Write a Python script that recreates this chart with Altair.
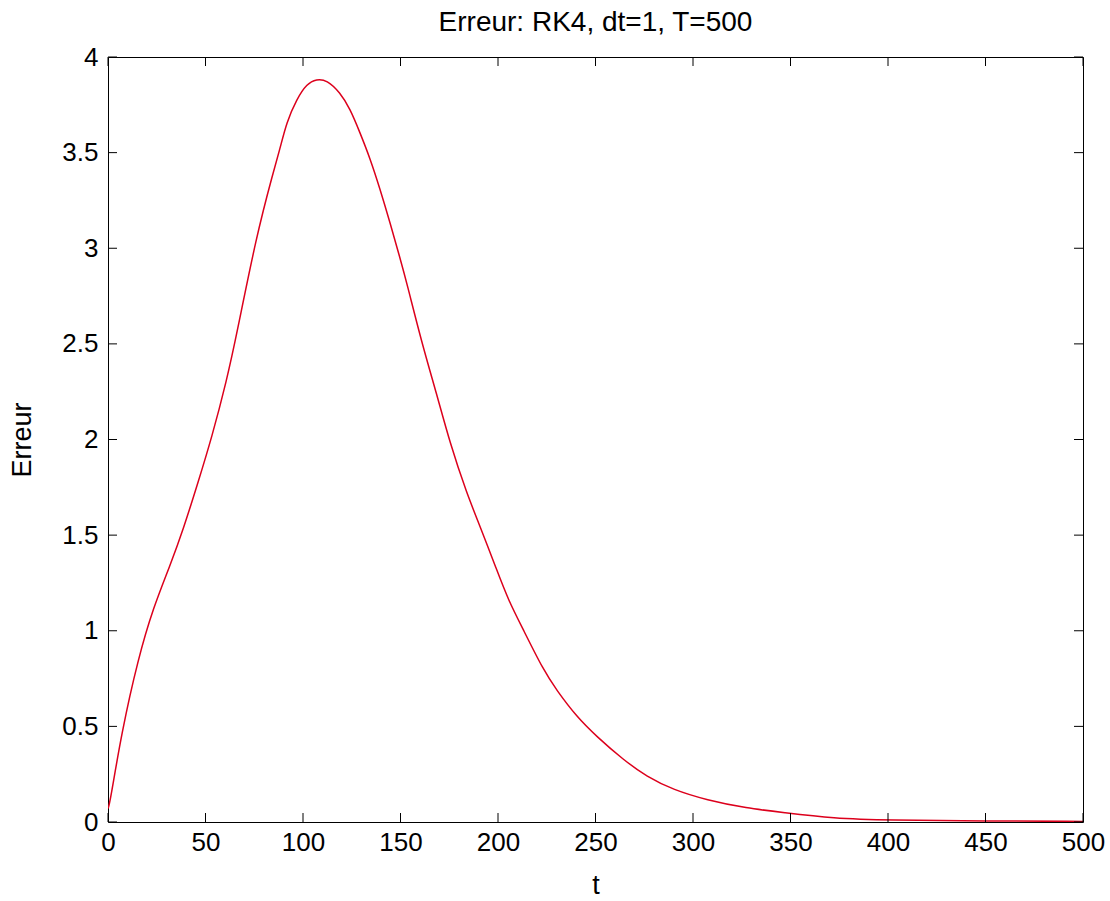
import altair as alt
import pandas as pd

# curve values
t_vals = [0, 1, 7, 15.6, 23.2, 31.8, 38.6, 46.3, 53.2, 60.9, 66, 76, 84.8, 88.2,
          91.6, 96.8, 101.9, 107, 112.2, 119, 124.1, 129.2, 134.4, 139.5, 144.6, 149.7,
          153.2, 160.8, 168.5, 175.4, 183.9, 190.8, 199.3, 205.3, 213, 223.2, 230, 240.3,
          250.6, 264.3, 276.3, 290, 307, 327.5, 346, 372, 400, 450, 500]
err_vals = [0.07, 0.1, 0.47, 0.86, 1.12, 1.34, 1.53, 1.78, 2.01, 2.31, 2.55, 3.06,
            3.4, 3.52, 3.66, 3.78, 3.86, 3.885, 3.88, 3.815, 3.73, 3.605, 3.47, 3.31,
            3.135, 2.95, 2.82, 2.51, 2.24, 1.98, 1.72, 1.546, 1.32, 1.16, 1.005, 0.796,
            0.69, 0.551, 0.447, 0.325, 0.237, 0.168, 0.115, 0.072, 0.05, 0.019, 0.01,
            0.005, 0.003]

x_ticks = [0, 50, 100, 150, 200, 250, 300, 350, 400, 450, 500]
y_ticks = [0, 0.5, 1, 1.5, 2, 2.5, 3, 3.5, 4]

W, H = 975, 765
TL = 9
FONT = "Liberation Sans"
LBL = 26
TTL = 27

df = pd.DataFrame({"t": t_vals, "err": err_vals})
xt = pd.DataFrame({"t": x_ticks})
yt = pd.DataFrame({"e": y_ticks})

xscale = alt.Scale(domain=[0, 500], nice=False, zero=False)
yscale = alt.Scale(domain=[0, 4], nice=False, zero=False)

line = alt.Chart(df).mark_line(color="#dc001c", strokeWidth=1.5, interpolate="basis", clip=True).encode(
    x=alt.X("t:Q", scale=xscale, title="t",
            axis=alt.Axis(values=x_ticks, format="d", ticks=False, domain=False, grid=False,
                          labelFlush=False, labelOverlap=False,
                          labelFont=FONT, labelFontSize=LBL, labelColor="black",
                          labelPadding=7, titleFont=FONT, titleFontSize=TTL,
                          titleFontWeight="normal", titleColor="black", titlePadding=17)),
    y=alt.Y("err:Q", scale=yscale, title="Erreur",
            axis=alt.Axis(values=y_ticks, format=".2~f", ticks=False, domain=False, grid=False,
                          labelFlush=False, labelOverlap=False,
                          labelFont=FONT, labelFontSize=LBL, labelColor="black",
                          labelPadding=10, titleFont=FONT, titleFontSize=TTL,
                          titleFontWeight="normal", titleColor="black", titlePadding=25)),
)

bottom_ticks = alt.Chart(xt).mark_rule(color="black", strokeWidth=1).encode(
    x=alt.X("t:Q", scale=xscale), y=alt.value(H), y2=alt.value(H - TL))
top_ticks = alt.Chart(xt).mark_rule(color="black", strokeWidth=1).encode(
    x=alt.X("t:Q", scale=xscale), y=alt.value(0), y2=alt.value(TL))
left_ticks = alt.Chart(yt).mark_rule(color="black", strokeWidth=1).encode(
    y=alt.Y("e:Q", scale=yscale), x=alt.value(0), x2=alt.value(TL))
right_ticks = alt.Chart(yt).mark_rule(color="black", strokeWidth=1).encode(
    y=alt.Y("e:Q", scale=yscale), x=alt.value(W), x2=alt.value(W - TL))

chart = alt.layer(line, bottom_ticks, top_ticks, left_ticks, right_ticks).properties(
    width=W, height=H,
    background="white",
    title=alt.TitleParams("Erreur: RK4, dt=1, T=500", font=FONT, fontSize=28,
                          fontWeight="normal", color="black", anchor="middle",
                          frame="group", baseline="alphabetic", offset=10, dy=25),
    autosize=alt.AutoSizeParams(type="none"),
    padding={"left": 108, "top": 57, "right": 27, "bottom": 79},
).configure_view(stroke="black", strokeWidth=1)

chart.save("out.html", embed_options={"renderer": "svg", "actions": False})
